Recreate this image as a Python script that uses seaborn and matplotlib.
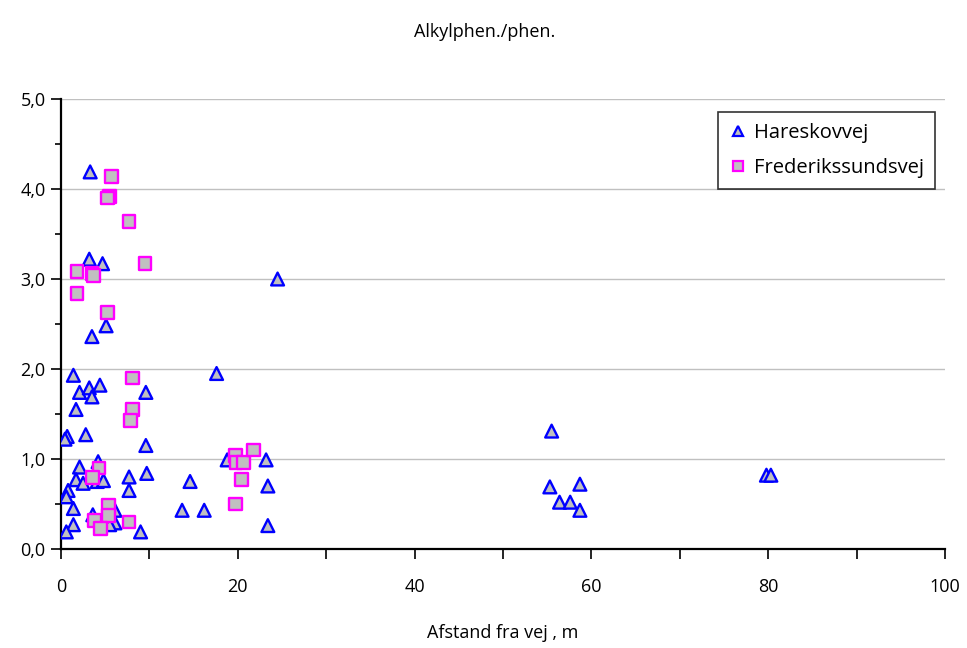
import matplotlib
matplotlib.use("Agg")
import matplotlib.pyplot as plt
import matplotlib.ticker as mticker
import numpy as np
import pandas as pd
import seaborn as sns

# Hareskovvej measurements: distance from road (m) and alkylphenanthrene/phenanthrene ratio
hare_x = [3.3, 3.2, 4.7, 5.1, 3.5, 24.5, 17.6, 1.4, 2.1, 3.2, 3.5, 4.4, 9.6, 1.7,
          0.7, 0.45, 2.8, 9.6, 4.2, 2.1, 1.7, 2.5, 4.1, 4.8, 7.7, 9.7, 7.7, 0.8,
          0.6, 1.4, 6.1, 3.6, 6.1, 5.5, 1.4, 0.6, 9.0, 18.8, 23.2, 23.4, 23.4,
          14.6, 13.7, 16.2, 55.5, 55.3, 58.7, 56.4, 57.6, 58.7, 79.8, 80.3]
hare_y = [4.19, 3.22, 3.17, 2.48, 2.36, 3.00, 1.95, 1.93, 1.74, 1.79, 1.69, 1.82, 1.74, 1.55,
          1.25, 1.22, 1.27, 1.15, 0.97, 0.91, 0.77, 0.73, 0.75, 0.76, 0.80, 0.84, 0.65, 0.65,
          0.58, 0.45, 0.43, 0.38, 0.29, 0.27, 0.27, 0.19, 0.19, 0.99, 0.99, 0.70, 0.26,
          0.75, 0.43, 0.43, 1.31, 0.69, 0.72, 0.52, 0.52, 0.43, 0.82, 0.82]

# Frederikssundsvej measurements
fred_x = [5.7, 5.5, 5.3, 7.7, 9.5, 1.8, 3.5, 3.7, 1.8, 5.3, 8.1, 8.1, 7.9, 4.3,
          3.6, 5.4, 5.4, 3.8, 4.5, 7.7, 19.7, 19.8, 20.6, 21.8, 20.4, 19.7]
fred_y = [4.14, 3.92, 3.90, 3.64, 3.17, 3.08, 3.06, 3.04, 2.84, 2.63, 1.90, 1.55, 1.43, 0.90,
          0.79, 0.48, 0.37, 0.32, 0.23, 0.30, 1.04, 0.96, 0.96, 1.10, 0.77, 0.50]

series_names = ["Hareskovvej", "Frederikssundsvej"]
x_ticks = [0, 20, 40, 60, 80, 100]
y_ticks = [0.0, 1.0, 2.0, 3.0, 4.0, 5.0]

df = pd.DataFrame({
    "Afstand": hare_x + fred_x,
    "Ratio": hare_y + fred_y,
    "Vej": [series_names[0]] * len(hare_x) + [series_names[1]] * len(fred_x),
})

sns.set_style("white")
plt.rcParams["font.family"] = ["Open Sans", "DejaVu Sans"]
plt.rcParams["text.color"] = "black"
plt.rcParams["axes.labelcolor"] = "black"

fig = plt.figure(figsize=(9.67, 6.48), dpi=100)
ax = fig.add_axes([61 / 967, 99 / 648, (945 - 61) / 967, (549 - 99) / 648])

sns.scatterplot(
    data=df, x="Afstand", y="Ratio", hue="Vej", style="Vej",
    hue_order=series_names, style_order=series_names,
    palette={series_names[0]: "#c0c0c0", series_names[1]: "#c0c0c0"},
    markers={series_names[0]: "^", series_names[1]: "s"},
    ax=ax, s=85, linewidth=1.7, zorder=3, legend=False,
)
# edge colours per series
cols = ax.collections
if len(cols) > 1:
    cols[0].set_edgecolor("#0000ff")
    cols[1].set_edgecolor("#ff00ff")
else:
    ec = ["#0000ff" if v == series_names[0] else "#ff00ff" for v in df["Vej"]]
    cols[0].set_edgecolor(ec)

ax.set_xlim(0, 100)
ax.set_ylim(0, 5)
ax.xaxis.set_major_locator(mticker.FixedLocator(x_ticks))
ax.xaxis.set_minor_locator(mticker.MultipleLocator(10))
ax.yaxis.set_major_locator(mticker.FixedLocator(y_ticks))
ax.yaxis.set_minor_locator(mticker.MultipleLocator(0.5))
ax.yaxis.set_major_formatter(mticker.FuncFormatter(lambda v, p: f"{v:.1f}".replace(".", ",")))
ax.xaxis.set_major_formatter(mticker.FuncFormatter(lambda v, p: f"{v:.0f}"))

ax.grid(axis="y", color="#c0c0c0", linewidth=1.0, zorder=0)
ax.grid(axis="x", visible=False)
ax.set_axisbelow(True)

for side in ["top", "right"]:
    ax.spines[side].set_visible(False)
for side in ["left", "bottom"]:
    ax.spines[side].set_color("black")
    ax.spines[side].set_linewidth(1.6)

ax.tick_params(axis="both", which="major", direction="out", length=7, width=1.2,
               color="black", labelsize=13, labelcolor="black", bottom=True, left=True, pad=4)
ax.tick_params(axis="x", which="minor", direction="out", length=7, width=1.2,
               color="black", bottom=True)
ax.tick_params(axis="y", which="minor", direction="out", length=4, width=1.2,
               color="black", left=True)
ax.tick_params(axis="x", which="major", pad=14)

ax.set_xlabel("Afstand fra vej , m", fontsize=13, labelpad=20, color="black")
ax.set_ylabel("")
fig.text(485 / 967, 1 - 32 / 648, "Alkylphen./phen.", ha="center", va="center",
         fontsize=13, color="black")

# legend
handles = [
    plt.Line2D([], [], marker="^", linestyle="none", markersize=7,
               markerfacecolor="#c0c0c0", markeredgecolor="#0000ff", markeredgewidth=1.6),
    plt.Line2D([], [], marker="s", linestyle="none", markersize=7,
               markerfacecolor="#c0c0c0", markeredgecolor="#ff00ff", markeredgewidth=1.6),
]
leg = ax.legend(handles, series_names, loc="upper right",
                bbox_to_anchor=((935 - 61) / 884, (549 - 112) / 450),
                borderaxespad=0.0,
                frameon=True, fancybox=False, edgecolor="black", fontsize=14.5,
                handletextpad=0.35, handlelength=0.9, borderpad=0.55, labelspacing=0.75)
leg.get_frame().set_linewidth(1.2)
for t in leg.get_texts():
    t.set_color("black")

fig.savefig("out.png", dpi=100)
